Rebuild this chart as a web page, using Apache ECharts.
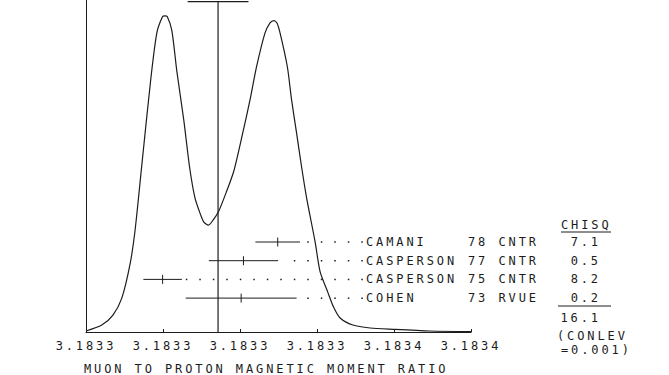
<!DOCTYPE html>
<html><head><meta charset="utf-8">
<script src="https://cdn.jsdelivr.net/npm/echarts@6/dist/echarts.min.js"></script>
<style>
html,body{margin:0;padding:0;background:#fff;}
#chart{width:669px;height:375px;}
#chart svg text{letter-spacing:2.9px;}
</style></head><body><div id="chart"></div>
<script>
// ---- data ----
const tickLabels = ['3.1833','3.1833','3.1833','3.1833','3.1834','3.1834'];
// ideogram curve (x: ratio, y: relative height)
const curveX = [3.1833000,3.1833041,3.1833070,3.1833093,3.1833114,3.1833127,3.1833145,3.1833168,3.1833184,3.1833199,3.1833205,3.1833211,3.1833223,3.1833236,3.1833254,3.1833269,3.1833283,3.1833298,3.1833306,3.1833318,3.1833330,3.1833344,3.1833365,3.1833384,3.1833407,3.1833426,3.1833443,3.1833465,3.1833478,3.1833488,3.1833496,3.1833504,3.1833523,3.1833534,3.1833547,3.1833560,3.1833573,3.1833595,3.1833608,3.1833628,3.1833643,3.1833660,3.1833693,3.1833738,3.1833797,3.1833893,3.1834000];
const curveY = [0.3,2.1,5.1,10.2,20.2,30.2,50.3,75.9,90.1,95.0,95.2,95.0,90.8,78.5,63.8,49.7,40.4,35.2,33.1,32.2,33.7,36.2,42.3,48.5,59.9,69.9,79.9,90.1,93.1,93.8,93.1,90.1,79.9,69.9,59.9,49.7,40.4,27.2,18.2,12.0,7.5,4.2,2.1,1.2,0.8,0.3,0.15];
const expNames = ['CAMANI','CASPERSON','CASPERSON','COHEN'];
const expYears = ['78','77','75','73'];
const expTech = ['CNTR','CNTR','CNTR','RVUE'];
const expValues = [3.1833498,3.1833409,3.1833199,3.1833403];
const expErrors = [0.0000058,0.0000090,0.0000050,0.0000144];
const expChisq = ['7.1','0.5','8.2','0.2'];
const meanValue = 3.1833343;
const meanError = 0.0000079;
const chisqHeader = 'CHISQ';
const chisqTotal = '16.1';
const conlevLines = ['(CONLEV','=0.001)'];
const axisTitle = 'MUON TO PROTON MAGNETIC MOMENT RATIO';

// ---- style / layout ----
const FONT = '12px "DejaVu Sans Mono", monospace';
const INK = '#1c1c1c';
const ROW_Y0 = 242, ROW_GAP = 18.7;
const NAME_X = 366, YEAR_X = 468, TECH_X = 498.5, CHI_RIGHT = 601;
const DOT_STEP = 13.5;

function txt(text, x, y, align) {
  return {type:'text', style:{text:text, x:x, y:y, font:FONT, fill:INK,
    align:align||'left', verticalAlign:'middle', textAlign:align||'left', textVerticalAlign:'middle'}};
}

const chart = echarts.init(document.getElementById('chart'), null, {renderer:'svg'});
chart.setOption({
  animation:false,
  backgroundColor:'#fff',
  grid:{left:86, right:198, top:0, bottom:43},
  xAxis:{type:'value', min:3.1833, max:3.1834, interval:0.00002,
    axisLine:{lineStyle:{color:INK, width:1}},
    axisTick:{show:true, inside:true, length:3, lineStyle:{color:INK}},
    axisLabel:{margin:8, fontFamily:'"DejaVu Sans Mono", monospace', fontSize:12, color:INK,
      formatter:function(v, i){ return tickLabels[i]; }},
    splitLine:{show:false}},
  yAxis:{type:'value', min:0, max:100,
    axisLine:{show:true, lineStyle:{color:INK, width:1}},
    axisTick:{show:false}, axisLabel:{show:false}, splitLine:{show:false}},
  series:[
    {type:'line', data:curveX.map((x,i)=>[x, curveY[i]]), showSymbol:false, smooth:0.25,
     lineStyle:{color:INK, width:1.2}, silent:true},
    {type:'custom', data:[[meanValue, meanError]], encode:{x:0, y:-1},
     renderItem:function(params, api){
       const v = api.value(0), e = api.value(1);
       const b = api.coord([v, 0]), t = api.coord([v, 99.5]);
       const l = api.coord([v - e, 99.5]), r = api.coord([v + e, 99.5]);
       return {type:'group', children:[
         {type:'line', shape:{x1:b[0], y1:b[1], x2:t[0], y2:t[1]}, style:{stroke:INK, lineWidth:1.2}},
         {type:'line', shape:{x1:l[0], y1:l[1], x2:r[0], y2:r[1]}, style:{stroke:INK, lineWidth:1.2}}
       ]};
     }},
    {type:'custom', data:expValues.map((v,i)=>[v, expErrors[i], i]), encode:{x:0, y:-1},
     renderItem:function(params, api){
       const v = api.value(0), e = api.value(1), i = params.dataIndex;
       const y = ROW_Y0 + i*ROW_GAP;
       const xl = api.coord([v - e, 0])[0], xr = api.coord([v + e, 0])[0], xc = api.coord([v, 0])[0];
       const ch = [
         {type:'line', shape:{x1:xl, y1:y, x2:xr, y2:y}, style:{stroke:INK, lineWidth:1}},
         {type:'line', shape:{x1:xc, y1:y-4.5, x2:xc, y2:y+4.5}, style:{stroke:INK, lineWidth:1}}
       ];
       for (let d = NAME_X - 4; d > xr + 4; d -= DOT_STEP) {
         ch.push({type:'rect', shape:{x:d-0.7, y:y-0.7, width:1.5, height:1.5}, style:{fill:INK}});
       }
       ch.push(txt(expNames[i], NAME_X, y));
       ch.push(txt(expYears[i], YEAR_X, y));
       ch.push(txt(expTech[i], TECH_X, y));
       ch.push(txt(expChisq[i], CHI_RIGHT, y, 'right'));
       return {type:'group', children:ch};
     }}
  ],
  graphic:[
    txt(chisqHeader, 561, 225),
    {type:'line', shape:{x1:561, y1:232, x2:611, y2:232}, style:{stroke:INK, lineWidth:1}},
    {type:'line', shape:{x1:558, y1:306, x2:611, y2:306}, style:{stroke:INK, lineWidth:1}},
    txt(chisqTotal, CHI_RIGHT, 318, 'right'),
    txt(conlevLines[0], 557, 336),
    txt(conlevLines[1], 561, 350),
    txt(axisTitle, 84, 369)
  ]
});
</script></body></html>
